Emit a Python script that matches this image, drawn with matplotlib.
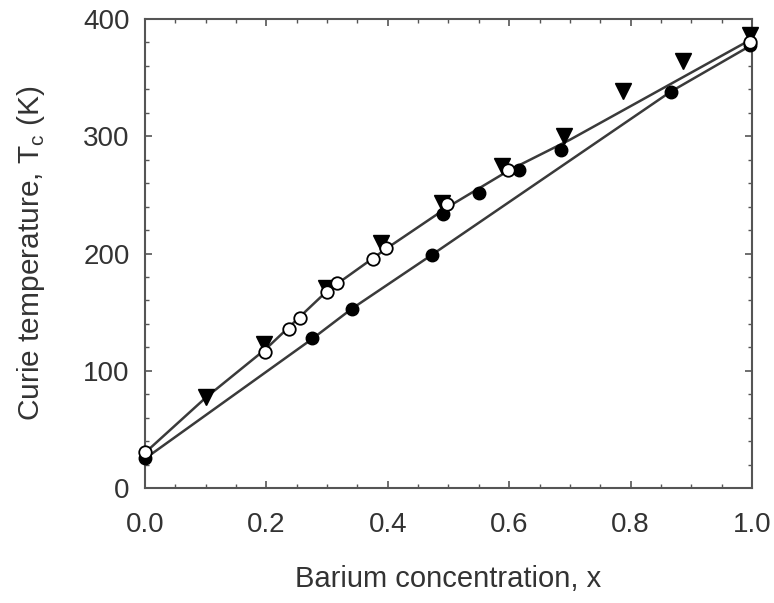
import matplotlib
matplotlib.use("Agg")
import matplotlib.pyplot as plt
from matplotlib.ticker import MultipleLocator

plt.rcParams['font.family'] = ['Liberation Sans', 'DejaVu Sans']

# filled down-triangles
tri_x = [0.10, 0.196, 0.298, 0.389, 0.489, 0.588, 0.69, 0.787, 0.886, 0.997]
tri_y = [78, 123, 171, 209, 243, 275, 300, 339, 364, 386]

# open circles
oc_x = [0.0, 0.198, 0.237, 0.255, 0.30, 0.316, 0.376, 0.397, 0.497, 0.598, 0.997]
oc_y = [31, 116, 136, 145, 167, 175, 195, 205, 242, 271, 380]

# filled circles
fc_x = [0.0, 0.275, 0.341, 0.473, 0.491, 0.55, 0.616, 0.685, 0.866, 0.997]
fc_y = [26, 128, 153, 199, 234, 252, 271, 288, 338, 378]

# guide lines
up_x = [0.0, 0.1, 0.2, 0.3, 0.4, 0.5, 0.6, 0.7, 1.0]
up_y = [30, 77, 119, 168, 205, 240, 271, 297, 383]
lo_x = [0.0, 0.275, 0.341, 0.473, 0.866, 1.0]
lo_y = [25, 127, 153, 199, 338, 378]

fig = plt.figure(figsize=(7.74, 6.03), dpi=100)
ax = fig.add_axes([0.1873, 0.1907, 0.9716 - 0.1873, 0.9685 - 0.1907])

lc = '#3a3a3a'
ax.plot(up_x, up_y, '-', color=lc, lw=1.8, zorder=2)
ax.plot(lo_x, lo_y, '-', color=lc, lw=1.8, zorder=2)
ax.plot(tri_x, tri_y, 'v', color='black', ms=11, ls='none', zorder=3, clip_on=False)
ax.plot(fc_x, fc_y, 'o', color='black', ms=9, ls='none', zorder=4, clip_on=False)
ax.plot(oc_x, oc_y, 'o', mfc='white', mec='black', mew=1.3, ms=9, ls='none', zorder=5, clip_on=False)

ax.set_xlim(0, 1.0)
ax.set_ylim(0, 400)
ax.xaxis.set_major_locator(MultipleLocator(0.2))
ax.xaxis.set_minor_locator(MultipleLocator(0.05))
ax.yaxis.set_major_locator(MultipleLocator(100))
ax.yaxis.set_minor_locator(MultipleLocator(20))
ax.xaxis.set_major_formatter(plt.FormatStrFormatter('%.1f'))

tc = '#333333'
ax.tick_params(which='both', direction='in', top=True, right=True, colors='#555555',
               labelcolor=tc, labelsize=20)
ax.tick_params(axis='x', which='major', length=5, width=1.2, pad=17)
ax.tick_params(axis='y', which='major', length=5, width=1.2, pad=11)
ax.tick_params(which='minor', length=3, width=1.0)
for s in ax.spines.values():
    s.set_color('#555555')
    s.set_linewidth(1.5)

ax.set_xlabel('Barium concentration, x', fontsize=21, color=tc, labelpad=20)
ax.set_ylabel('Curie temperature, T$_\\mathregular{c}$ (K)', fontsize=21.5, color=tc, labelpad=26)

fig.savefig('out.png', dpi=100)
